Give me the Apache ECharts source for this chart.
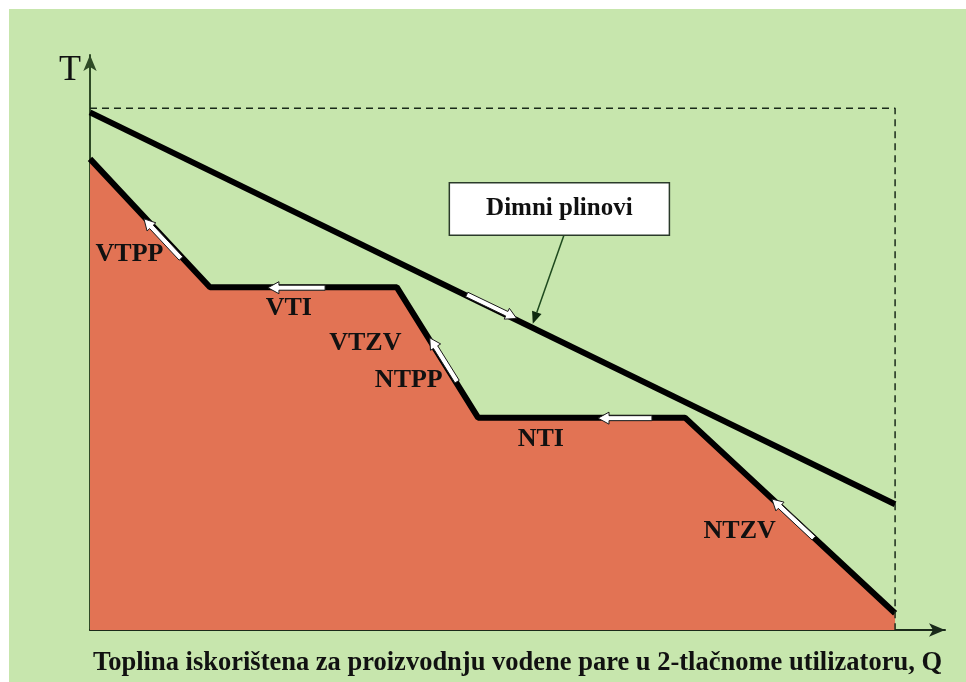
<!DOCTYPE html>
<html>
<head>
<meta charset="utf-8">
<script src="https://cdn.jsdelivr.net/npm/echarts@6/dist/echarts.min.js"></script>
<style>
  html, body { margin: 0; padding: 0; background: #fff; }
  #main { position: absolute; left: 9px; top: 9px; width: 957px; height: 673px; }
</style>
</head>
<body>
<div id="main"></div>
<script>
// axis extents (arbitrary units, Q and T)
const qMax = 106.2
const tMax = 110.2

// flue gas line
const gasQ = [0, 100]
const gasT = [99.2, 24.1]

// steam / water profile
const steamQ = [0, 14.9, 38.1, 48.2, 73.9, 100]
const steamT = [90.3, 65.7, 65.7, 40.7, 40.7, 3.2]

// dashed frame
const frameQ = [0, 100, 100]
const frameT = [100, 100, 0]

// flow arrows: [qTail, tTail, qHead, tHead]
const flowArrows = [
  [11.3, 71.2, 6.7, 78.8],
  [29.2, 65.6, 22.1, 65.6],
  [45.6, 47.6, 42.2, 56.0],
  [46.8, 64.3, 53.0, 59.7],
  [69.8, 40.6, 63.1, 40.6],
  [89.9, 17.6, 84.7, 25.1]
]

// section labels
const sectionNames = ['VTPP', 'VTI', 'VTZV', 'NTPP', 'NTI', 'NTZV']
const sectionQ = [4.9, 24.7, 34.2, 39.6, 56.0, 80.7]
const sectionT = [72.0, 61.7, 54.9, 47.8, 36.6, 18.9]

// callout
const calloutText = 'Dimni plinovi'
const calloutQ = 58.3
const calloutT = 80.7
const pointer = [58.9, 75.8, 55.0, 58.7]

const xName = 'Toplina iskorištena za proizvodnju vodene pare u 2-tlačnome utilizatoru, Q'
const yName = 'T'

const serif = '"Liberation Serif", "DejaVu Serif", serif'

function pairs (xs, ys) {
  return xs.map((x, i) => [x, ys[i]])
}

function renderFlowArrow (params, api) {
  const p1 = api.coord([api.value(0), api.value(1)])
  const p2 = api.coord([api.value(2), api.value(3)])
  const dx = p2[0] - p1[0]
  const dy = p2[1] - p1[1]
  const len = Math.sqrt(dx * dx + dy * dy)
  const ux = dx / len
  const uy = dy / len
  const nx = -uy
  const ny = ux
  const sw = 2.5
  const hw = 6
  const hl = 11
  const bx = p2[0] - ux * hl
  const by = p2[1] - uy * hl
  const pts = [
    [p1[0] + nx * sw, p1[1] + ny * sw],
    [bx + nx * sw, by + ny * sw],
    [bx + nx * hw, by + ny * hw],
    [p2[0], p2[1]],
    [bx - nx * hw, by - ny * hw],
    [bx - nx * sw, by - ny * sw],
    [p1[0] - nx * sw, p1[1] - ny * sw]
  ]
  return {
    type: 'polygon',
    shape: { points: pts },
    style: { fill: '#ffffff', stroke: '#1a1a1a', lineWidth: 1 }
  }
}

function renderPointer (params, api) {
  const p1 = api.coord([api.value(0), api.value(1)])
  const p2 = api.coord([api.value(2), api.value(3)])
  const dx = p2[0] - p1[0]
  const dy = p2[1] - p1[1]
  const len = Math.sqrt(dx * dx + dy * dy)
  const ux = dx / len
  const uy = dy / len
  const nx = -uy
  const ny = ux
  const hl = 12
  const hw = 5
  const bx = p2[0] - ux * hl
  const by = p2[1] - uy * hl
  return {
    type: 'group',
    children: [
      {
        type: 'line',
        shape: { x1: p1[0], y1: p1[1], x2: bx, y2: by },
        style: { stroke: '#1e4a1e', lineWidth: 1.5 }
      },
      {
        type: 'polygon',
        shape: { points: [[bx + nx * hw, by + ny * hw], [p2[0], p2[1]], [bx - nx * hw, by - ny * hw]] },
        style: { fill: '#0f2a0f' }
      }
    ]
  }
}

const chart = echarts.init(document.getElementById('main'))

const option = {
  backgroundColor: '#c7e6ad',
  animation: false,
  grid: { left: 81, right: 21, top: 46, bottom: 45 },
  xAxis: {
    type: 'value',
    min: 0,
    max: qMax,
    name: xName,
    nameLocation: 'middle',
    nameGap: 20,
    nameTextStyle: { fontFamily: serif, fontWeight: 'bold', fontSize: 26.5, color: '#111' },
    axisLine: { lineStyle: { color: '#1a2a1a', width: 2 }, symbol: ['none', 'arrow'], symbolSize: [10, 16] },
    axisTick: { show: false },
    axisLabel: { show: false },
    splitLine: { show: false }
  },
  yAxis: {
    type: 'value',
    min: 0,
    max: tMax,
    name: yName,
    nameLocation: 'end',
    nameGap: -34,
    nameTextStyle: { fontFamily: serif, fontSize: 36, color: '#111', align: 'right', padding: [0, 9, 0, 0] },
    axisLine: { lineStyle: { color: '#2e4a26', width: 2 }, symbol: ['none', 'arrow'], symbolSize: [10, 16] },
    axisTick: { show: false },
    axisLabel: { show: false },
    splitLine: { show: false }
  },
  series: [
    {
      type: 'line',
      data: pairs(steamQ, steamT),
      symbol: 'none',
      lineStyle: { color: '#000', width: 6 },
      areaStyle: { color: '#e27354', opacity: 1 },
      z: 2
    },
    {
      type: 'line',
      data: pairs(frameQ, frameT),
      symbol: 'none',
      lineStyle: { color: '#1a2a1a', width: 1.5, type: [7, 5] },
      z: 3
    },
    {
      type: 'line',
      data: pairs(gasQ, gasT),
      symbol: 'none',
      lineStyle: { color: '#000', width: 6 },
      z: 4
    },
    {
      type: 'custom',
      renderItem: renderFlowArrow,
      data: flowArrows,
      z: 5
    },
    {
      type: 'custom',
      renderItem: renderPointer,
      data: [pointer],
      z: 6
    },
    {
      type: 'scatter',
      symbolSize: 0,
      itemStyle: { opacity: 1 },
      data: sectionNames.map((n, i) => ({ name: n, value: [sectionQ[i], sectionT[i]] })),
      label: {
        show: true,
        position: 'inside',
        formatter: '{b}',
        fontFamily: serif,
        fontWeight: 'bold',
        fontSize: 26,
        color: '#111',
        opacity: 1
      },
      z: 7
    },
    {
      type: 'scatter',
      symbolSize: 0,
      itemStyle: { opacity: 1 },
      data: [{ name: calloutText, value: [calloutQ, calloutT] }],
      label: {
        show: true,
        position: 'inside',
        formatter: '{b}',
        fontFamily: serif,
        fontWeight: 'bold',
        fontSize: 25,
        color: '#111',
        opacity: 1,
        backgroundColor: '#fff',
        borderColor: '#2a3a2a',
        borderWidth: 1.5,
        padding: [13, 36]
      },
      z: 8
    }
  ]
}

chart.setOption(option)
</script>
</body>
</html>
